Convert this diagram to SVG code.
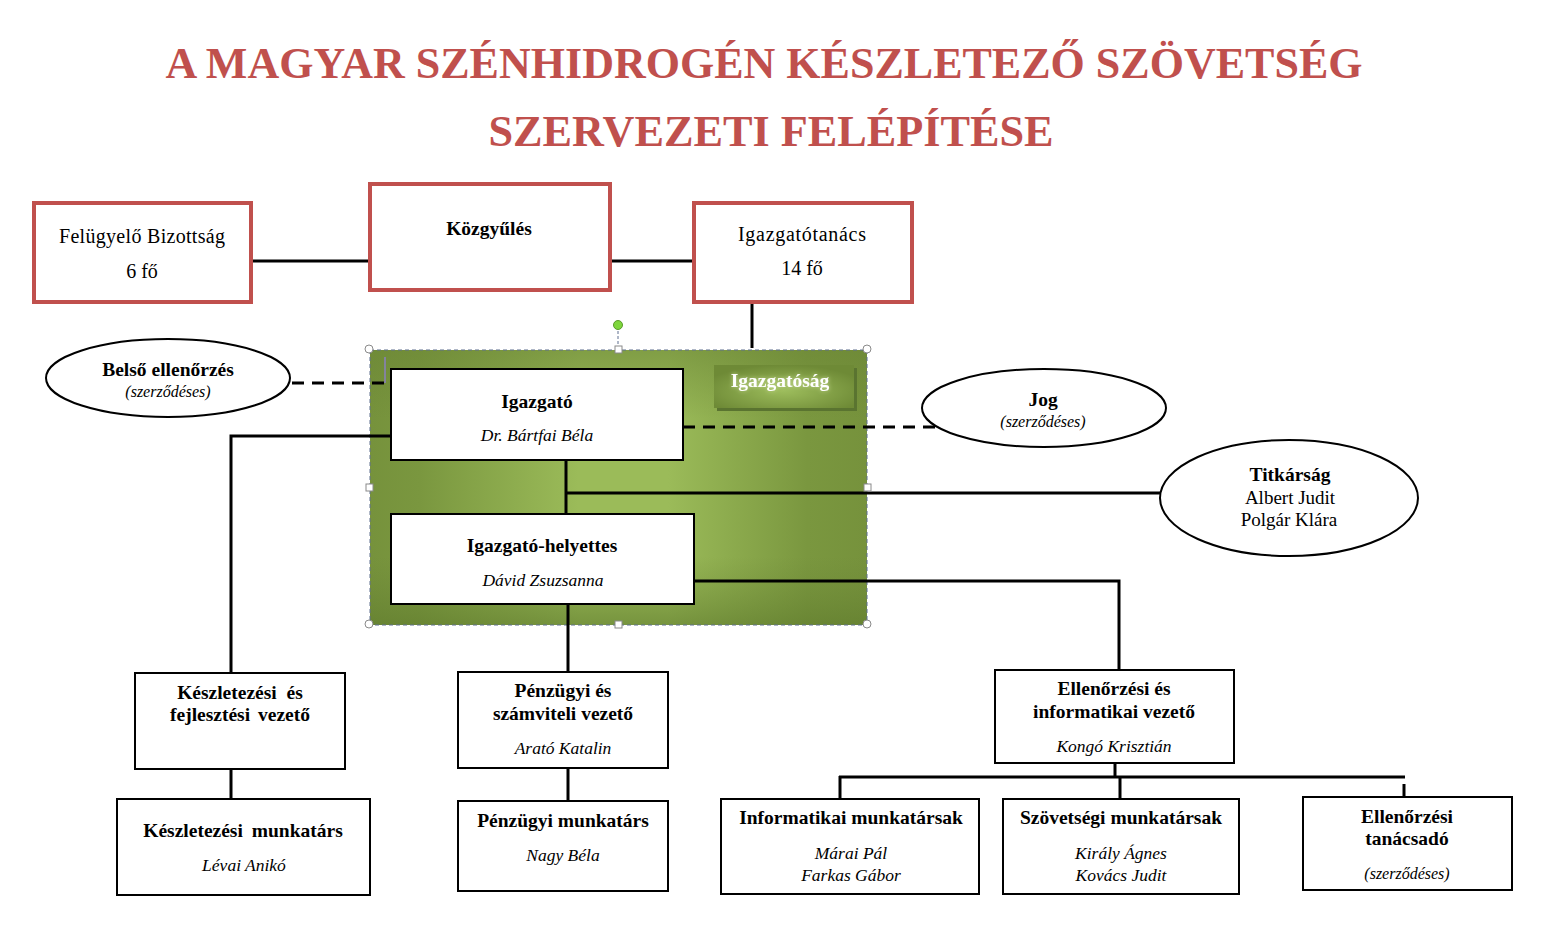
<svg xmlns="http://www.w3.org/2000/svg" width="1545" height="929" viewBox="0 0 1545 929">
<defs>
<linearGradient id="gH" x1="0" y1="0" x2="1" y2="0">
<stop offset="0" stop-color="#76923C"/>
<stop offset="0.1" stop-color="#7A973F"/>
<stop offset="0.42" stop-color="#9BBB59"/>
<stop offset="0.6" stop-color="#9BBB59"/>
<stop offset="0.88" stop-color="#7A973F"/>
<stop offset="1" stop-color="#76923C"/>
</linearGradient>
<linearGradient id="gV" x1="0" y1="0" x2="0" y2="1">
<stop offset="0" stop-color="#6A8535" stop-opacity="0.55"/>
<stop offset="0.25" stop-color="#6A8535" stop-opacity="0"/>
<stop offset="0.75" stop-color="#6A8535" stop-opacity="0"/>
<stop offset="1" stop-color="#5E7A2C" stop-opacity="0.6"/>
</linearGradient>
<radialGradient id="gLabel" cx="0.5" cy="0.6" r="0.6">
<stop offset="0" stop-color="#9DBD5C"/>
<stop offset="1" stop-color="#6E8A36"/>
</radialGradient>
<filter id="glow" x="-20%" y="-50%" width="140%" height="200%">
<feGaussianBlur stdDeviation="2" result="b"/>
<feFlood flood-color="#D8E8A8" flood-opacity="0.8"/>
<feComposite in2="b" operator="in" result="c"/>
<feMerge><feMergeNode in="c"/><feMergeNode in="SourceGraphic"/></feMerge>
</filter>
</defs>
<style>
.title{font-family:"Liberation Serif","DejaVu Serif",serif;font-weight:bold;fill:#C0504D;text-anchor:middle}
.t{font-family:"Liberation Serif","DejaVu Serif",serif;font-size:19px;text-anchor:middle;fill:#000}
.top{font-size:20px}
.b{font-weight:bold;font-size:19.5px}
.i{font-style:italic;font-size:17.5px}
.s{font-style:italic;font-size:16px}
.red{fill:#fff;stroke:#C0504D;stroke-width:4}
.box{fill:#fff;stroke:#000;stroke-width:2}
.ell{fill:#fff;stroke:#000;stroke-width:2}
.ln{stroke:#000;stroke-width:3;fill:none}
.dash{stroke:#000;stroke-width:3;fill:none;stroke-dasharray:12 8}
.h{fill:#fff;stroke:#8A8A8A;stroke-width:1}
</style>
<rect width="1545" height="929" fill="#fff"/>
<text class="title" x="764" y="78" font-size="44" textLength="1197" lengthAdjust="spacingAndGlyphs">A MAGYAR SZÉNHIDROGÉN KÉSZLETEZŐ SZÖVETSÉG</text>
<text class="title" x="771" y="146" font-size="44" textLength="565" lengthAdjust="spacingAndGlyphs">SZERVEZETI FELÉPÍTÉSE</text>

<g id="igazgatosag-frame">
<rect x="370" y="350" width="497" height="275" fill="url(#gH)"/>
<rect x="370" y="350" width="497" height="275" fill="url(#gV)"/>
<rect x="370" y="350" width="497" height="275" fill="none" stroke="#5F6F8F" stroke-width="1" stroke-dasharray="4 3"/>
<line x1="385" y1="357" x2="385" y2="383" stroke="#8A7FC0" stroke-width="1.5"/>
</g>

<g id="connectors">
<line class="ln" x1="251" y1="261" x2="370" y2="261"/>
<line class="ln" x1="610" y1="261" x2="694" y2="261"/>
<line class="ln" x1="752" y1="302" x2="752" y2="348"/>
<line class="dash" x1="292" y1="383" x2="391" y2="383"/>
<line class="dash" x1="683" y1="427" x2="935" y2="427"/>
<polyline class="ln" points="391,436 231,436 231,673"/>
<line class="ln" x1="566" y1="460" x2="566" y2="514"/>
<line class="ln" x1="566" y1="493" x2="1160" y2="493"/>
<polyline class="ln" points="694,581 1119,581 1119,670"/>
<line class="ln" x1="568" y1="604" x2="568" y2="672"/>
<line class="ln" x1="231" y1="769" x2="231" y2="799"/>
<line class="ln" x1="568" y1="768" x2="568" y2="801"/>
<line class="ln" x1="1115" y1="763" x2="1115" y2="777"/>
<line class="ln" x1="839" y1="777" x2="1405" y2="777"/>
<line class="ln" x1="840" y1="776" x2="840" y2="799"/>
<line class="ln" x1="1120" y1="776" x2="1120" y2="799"/>
<line class="ln" x1="1404" y1="784" x2="1404" y2="797"/>
</g>

<g id="felugyelo">
<rect class="red" x="34" y="203" width="217" height="99"/>
<text class="t top" x="142" y="243" textLength="166">Felügyelő Bizottság</text>
<text class="t top" x="142" y="278">6 fő</text>
</g>
<g id="kozgyules">
<rect class="red" x="370" y="184" width="240" height="106"/>
<text class="t b" x="489" y="235">Közgyűlés</text>
</g>
<g id="igazgatotanacs">
<rect class="red" x="694" y="203" width="218" height="99"/>
<text class="t top" x="802" y="241" textLength="128">Igazgatótanács</text>
<text class="t top" x="802" y="275">14 fő</text>
</g>

<g id="igazgatosag-label">
<rect x="717" y="368" width="140" height="43" fill="#5A7430"/>
<rect x="714" y="365" width="140" height="43" fill="url(#gLabel)"/>
<text class="t b" x="780" y="387" style="fill:#fff" filter="url(#glow)">Igazgatóság</text>
</g>

<g id="igazgato">
<rect class="box" x="391" y="369" width="292" height="91"/>
<text class="t b" x="537" y="408">Igazgató</text>
<text class="t i" x="537" y="441">Dr. Bártfai Béla</text>
</g>
<g id="helyettes">
<rect class="box" x="391" y="514" width="303" height="90"/>
<text class="t b" x="542" y="552">Igazgató-helyettes</text>
<text class="t i" x="543" y="586">Dávid Zsuzsanna</text>
</g>

<g id="handles">
<line x1="618" y1="326" x2="618" y2="349" stroke="#5F6F8F" stroke-width="1" stroke-dasharray="3 2"/>
<circle cx="618" cy="325" r="4.5" fill="#7ED63C" stroke="#5A9A2A" stroke-width="1"/>
<circle class="h" cx="369" cy="349" r="4"/>
<circle class="h" cx="867" cy="349" r="4"/>
<circle class="h" cx="369" cy="624" r="4"/>
<circle class="h" cx="867" cy="624" r="4"/>
<rect class="h" x="615" y="346" width="7" height="7"/>
<rect class="h" x="366" y="484" width="7" height="7"/>
<rect class="h" x="864" y="484" width="7" height="7"/>
<rect class="h" x="615" y="621" width="7" height="7"/>
</g>

<g id="belso">
<ellipse class="ell" cx="168" cy="378" rx="122" ry="39"/>
<text class="t b" x="168" y="376">Belső ellenőrzés</text>
<text class="t s" x="168" y="397">(szerződéses)</text>
</g>
<g id="jog">
<ellipse class="ell" cx="1044" cy="408" rx="122" ry="39"/>
<text class="t b" x="1043" y="406">Jog</text>
<text class="t s" x="1043" y="427">(szerződéses)</text>
</g>
<g id="titkarsag">
<ellipse class="ell" cx="1289" cy="498" rx="129" ry="58"/>
<text class="t b" x="1290" y="481">Titkárság</text>
<text class="t" x="1290" y="504">Albert Judit</text>
<text class="t" x="1289" y="526">Polgár Klára</text>
</g>

<g id="keszletezesi-vezeto">
<rect class="box" x="135" y="673" width="210" height="96"/>
<text class="t b" x="240" y="699" word-spacing="5">Készletezési és</text>
<text class="t b" x="240" y="721" word-spacing="3">fejlesztési vezető</text>
</g>
<g id="keszletezesi-munkatars">
<rect class="box" x="117" y="799" width="253" height="96"/>
<text class="t b" x="243" y="837" word-spacing="4">Készletezési munkatárs</text>
<text class="t i" x="244" y="871">Lévai Anikó</text>
</g>
<g id="penzugyi-vezeto">
<rect class="box" x="458" y="672" width="210" height="96"/>
<text class="t b" x="563" y="697">Pénzügyi és</text>
<text class="t b" x="563" y="720">számviteli vezető</text>
<text class="t i" x="563" y="754">Arató Katalin</text>
</g>
<g id="penzugyi-munkatars">
<rect class="box" x="458" y="801" width="210" height="90"/>
<text class="t b" x="563" y="827">Pénzügyi munkatárs</text>
<text class="t i" x="563" y="861">Nagy Béla</text>
</g>
<g id="ellenorzesi-vezeto">
<rect class="box" x="995" y="670" width="239" height="93"/>
<text class="t b" x="1114" y="695">Ellenőrzési és</text>
<text class="t b" x="1114" y="718">informatikai vezető</text>
<text class="t i" x="1114" y="752">Kongó Krisztián</text>
</g>
<g id="informatikai">
<rect class="box" x="721" y="799" width="258" height="95"/>
<text class="t b" x="851" y="824">Informatikai munkatársak</text>
<text class="t i" x="851" y="859">Márai Pál</text>
<text class="t i" x="851" y="881">Farkas Gábor</text>
</g>
<g id="szovetsegi">
<rect class="box" x="1003" y="799" width="236" height="95"/>
<text class="t b" x="1121" y="824">Szövetségi munkatársak</text>
<text class="t i" x="1121" y="859">Király Ágnes</text>
<text class="t i" x="1121" y="881">Kovács Judit</text>
</g>
<g id="tanacsado">
<rect class="box" x="1303" y="797" width="209" height="93"/>
<text class="t b" x="1407" y="823">Ellenőrzési</text>
<text class="t b" x="1407" y="845">tanácsadó</text>
<text class="t s" x="1407" y="879">(szerződéses)</text>
</g>
</svg>
